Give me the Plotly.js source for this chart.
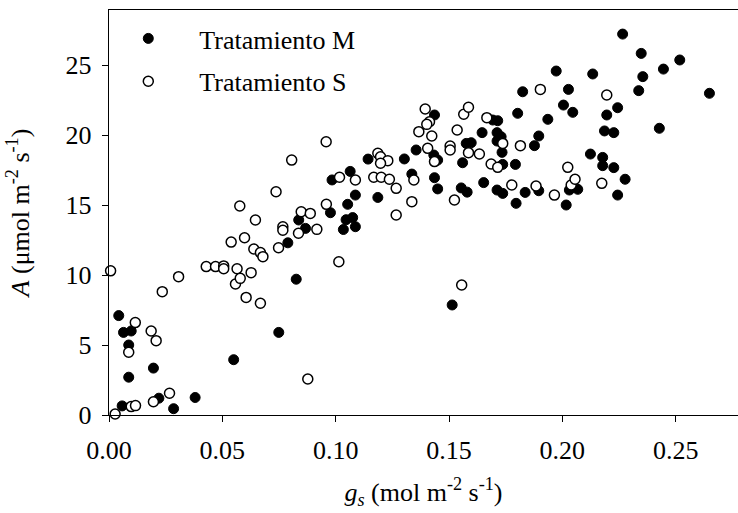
<!DOCTYPE html>
<html>
<head>
<meta charset="utf-8">
<script src="https://cdn.plot.ly/plotly-3.0.1.min.js"></script>
<style>html,body{margin:0;padding:0;background:#fff;}#chart{width:738px;height:513px;}</style>
</head>
<body>
<div id="chart"></div>
<script>
// Tratamiento M (filled circles)
const gsM = [0.0043,0.0064,0.0098,0.0087,0.0087,0.0058,0.0196,0.0220,0.0285,0.0380,0.0550,0.0749,0.0826,
  0.0789,0.0837,0.0867,0.0977,0.0984,0.1034,0.1046,0.1075,0.1053,0.1087,0.1064,0.1087,0.1143,0.1186,
  0.1303,0.1336,0.1355,0.1436,0.1433,0.1450,0.1436,0.1450,0.1514,
  0.1554,0.1580,0.1560,0.1576,0.1598,0.1646,0.1653,0.1693,0.1715,0.1712,0.1730,0.1712,0.1734,0.1737,0.1793,
  0.1712,0.1737,0.1796,0.1803,0.1825,0.1836,0.1877,0.1896,0.1896,0.1936,0.1973,0.2005,0.2027,0.2046,
  0.2017,0.2031,0.2068,0.2124,0.2134,0.2178,0.2178,0.2186,0.2196,0.2227,0.2227,0.2244,0.2244,0.2266,
  0.2277,0.2337,0.2348,0.2355,0.2428,0.2446,0.2518,0.2649];
const aM = [7.10,5.90,6.00,5.00,2.70,0.65,3.35,1.20,0.45,1.25,3.95,5.90,9.70,
  12.30,13.93,13.33,14.45,16.79,13.25,13.95,14.10,15.05,15.71,17.40,13.45,18.28,15.54,
  18.29,17.21,18.93,21.43,18.57,18.21,16.95,16.15,7.86,
  16.22,15.92,18.02,19.40,19.45,20.17,16.60,21.07,21.02,20.17,19.88,19.57,18.76,17.90,17.90,
  16.07,15.83,15.12,21.55,23.09,15.90,19.24,19.93,16.02,21.12,24.57,22.14,23.26,21.62,
  15.00,16.07,16.12,18.64,24.36,18.40,17.81,20.29,21.43,20.17,17.67,21.95,15.71,27.21,
  16.84,23.17,25.83,24.17,20.48,24.71,25.36,22.98];

// Tratamiento S (open circles)
const gsS = [0.0007,0.0027,0.0098,0.0117,0.0087,0.0116,0.0186,0.0208,0.0196,0.0267,0.0235,0.0307,0.0429,
  0.0470,0.0506,0.0506,0.0565,0.0558,0.0579,0.0627,0.0605,0.0668,0.0877,0.1014,
  0.0539,0.0598,0.0639,0.0668,0.0679,0.0748,0.0577,0.0646,0.0737,0.0767,0.0767,0.0806,0.0836,0.0848,
  0.0888,0.0917,0.0958,0.0959,0.1017,0.1087,
  0.1168,0.1201,0.1237,0.1267,0.1267,0.1186,0.1198,0.1230,0.1198,0.1336,0.1345,0.1367,0.1395,0.1414,
  0.1402,0.1424,0.1406,0.1436,0.1505,0.1505,0.1524,0.1536,0.1565,0.1586,0.1556,
  0.1586,0.1634,0.1667,0.1686,0.1715,0.1737,0.1777,0.1815,0.1884,0.1903,0.1965,0.2024,0.2039,0.2056,
  0.2174,0.2196];
const aS = [10.30,0.07,0.60,0.67,4.48,6.60,6.00,5.31,0.95,1.55,8.81,9.88,10.60,
  10.60,10.65,10.45,10.45,9.36,9.76,10.17,8.40,7.98,2.57,10.95,
  12.35,12.66,11.86,11.60,11.31,11.95,14.93,13.93,15.95,13.45,13.20,18.21,12.98,14.52,
  14.40,13.26,19.52,15.05,16.98,16.79,
  16.98,16.98,16.84,16.19,14.29,18.69,18.45,18.17,17.98,15.24,16.79,20.24,21.86,20.95,
  20.76,19.93,19.05,18.10,19.21,18.93,15.36,20.36,21.48,21.98,9.29,
  18.74,18.64,21.24,17.93,17.69,19.40,16.43,19.24,16.36,23.26,15.71,17.69,16.43,16.84,
  16.55,22.86];

const xTicks = [0, 0.05, 0.10, 0.15, 0.20, 0.25];
const xTickText = ["0.00","0.05","0.10","0.15","0.20","0.25"];
const yTicks = [0, 5, 10, 15, 20, 25];

const serif = "Liberation Serif, Times New Roman, serif";

const traces = [
  {x: gsM, y: aM, type: 'scatter', mode: 'markers', name: 'Tratamiento M', cliponaxis: false, legendgroup: 'M',
   marker: {symbol: 'circle', size: 10, color: '#000', line: {color: '#000', width: 1}}},
  {x: gsS, y: aS, type: 'scatter', mode: 'markers', name: 'Tratamiento S', cliponaxis: false, legendgroup: 'S',
   marker: {symbol: 'circle', size: 10, color: '#fff', line: {color: '#000', width: 1.5}}}
];

const layout = {
  width: 738, height: 513,
  margin: {l: 109, r: 0, t: 10, b: 98},
  paper_bgcolor: '#fff', plot_bgcolor: '#fff',
  font: {family: serif, size: 26, color: '#000'},
  showlegend: true,
  legend: {x: -0.0186, xanchor: 'left', y: 1 - 5/405, yanchor: 'top', bgcolor: 'rgba(0,0,0,0)',
           font: {family: serif, size: 26, color: '#000'}, itemwidth: 92, tracegroupgap: 6},
  xaxis: {
    range: [0, 0.2775], tickvals: xTicks, ticktext: xTickText,
    showgrid: false, zeroline: false, showline: true, linecolor: '#000', linewidth: 1.2,
    mirror: true, ticks: 'outside', ticklen: 6, tickwidth: 1, tickcolor: '#000', ticklabelstandoff: 6,
    tickfont: {family: serif, size: 26, color: '#000'},
    title: {text: '<i>g<sub>s</sub></i> (mol m<sup>-2</sup> s<sup>-1</sup>)', font: {family: serif, size: 26, color: '#000'}, standoff: 18}
  },
  yaxis: {
    range: [0, 28.93], tickvals: yTicks,
    showgrid: false, zeroline: false, showline: true, linecolor: '#000', linewidth: 1.2,
    ticks: 'outside', ticklen: 6, tickwidth: 1, tickcolor: '#000', ticklabelstandoff: 5,
    tickfont: {family: serif, size: 26, color: '#000'},
    title: {text: '<i>A</i> (μmol m<sup>-2</sup> s<sup>-1</sup>)', font: {family: serif, size: 26, color: '#000'}, standoff: 28}
  }
};

Plotly.newPlot('chart', traces, layout, {displayModeBar: false, staticPlot: true});
</script>
</body>
</html>
